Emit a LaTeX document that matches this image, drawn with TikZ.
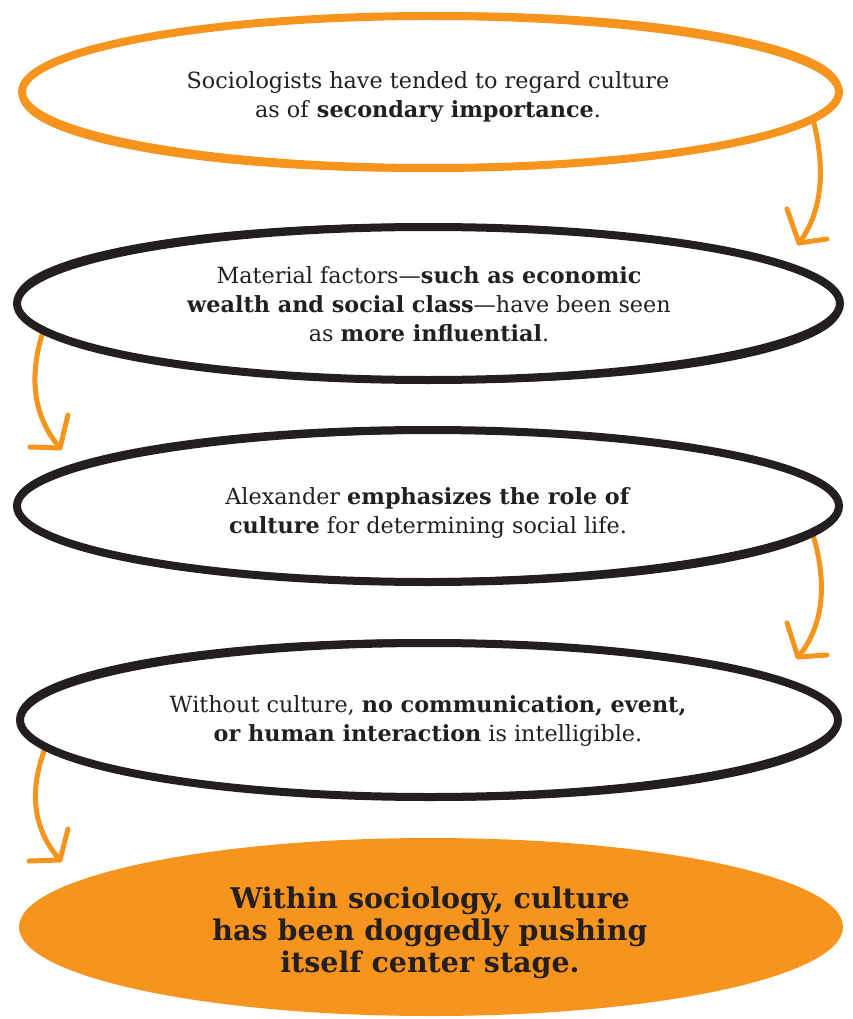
\documentclass[tikz,border=0pt]{standalone}
\usepackage{fontspec}
\setmainfont{DejaVu Serif}
\usetikzlibrary{shapes.geometric}
\definecolor{brand}{HTML}{F7941D}
\definecolor{ink}{HTML}{231F20}
\pgfdeclarelayer{back}
\pgfsetlayers{back,main}
\tikzset{
  oval/.style={ellipse, inner sep=0pt, outer sep=0pt, line width=8pt},
  darkoval/.style={oval, draw=ink},
  lightoval/.style={oval, draw=brand},
  endoval/.style={ellipse, inner sep=0pt, outer sep=0pt, fill=brand},
  txt/.style={align=center, text=ink, inner sep=0pt, font=\fontsize{22.3}{29}\selectfont},
  endtxt/.style={align=center, text=ink, inner sep=0pt, font=\fontsize{28.5}{32}\selectfont\bfseries},
  flow/.style={draw=brand, line width=5pt, line cap=round, line join=round},
}
\begin{document}
\begin{tikzpicture}[x=1pt,y=-1pt]
\useasboundingbox (0,0) rectangle (853,1019);
\node[lightoval, minimum width=817pt, minimum height=152pt] (e1) at (430.5,92) {};
\node[darkoval, minimum width=823pt, minimum height=153pt] (e2) at (428.5,303.5) {};
\node[darkoval, minimum width=822pt, minimum height=152pt] (e3) at (428,506) {};
\node[darkoval, minimum width=818pt, minimum height=154pt] (e4) at (429,720) {};
\node[endoval, minimum width=824pt, minimum height=178pt] (e5) at (431,927) {};
\node[txt] (l1) at (428,97)
  {Sociologists have tended to regard culture\\as of \textbf{secondary importance}.};
\node[txt] (l2) at (429,304.5)
  {Material factors---\textbf{such as economic}\\\textbf{wealth and social class}---have been seen\\as \textbf{more influential}.};
\node[txt] (l3) at (428,513)
  {Alexander \textbf{emphasizes the role of}\\\textbf{culture} for determining social life.};
\node[txt] (l4) at (428,721)
  {Without culture, \textbf{no communication, event,}\\\textbf{or human interaction} is intelligible.};
\node[endtxt] (l5) at (430,933)
  {Within sociology, culture\\has been doggedly pushing\\itself center stage.};
% brush variation
\draw[brand, line width=3.5pt, rotate around={0.5:(e1.center)}] (e1.center) ellipse [x radius=409, y radius=78];
\draw[ink, line width=3.5pt, rotate around={-0.5:(e2.center)}] (e2.center) ellipse [x radius=412, y radius=78];
\draw[ink, line width=3.5pt, rotate around={0.4:(e3.center)}] (e3.center) ellipse [x radius=411, y radius=74];
\draw[ink, line width=3.5pt, rotate around={-0.4:(e4.center)}] (e4.center) ellipse [x radius=410, y radius=79];
% arrow ends
\coordinate (t1) at (799,243);
\coordinate (p1) at (787,209);
\coordinate (q1) at (827,239);
\coordinate (t2) at (60,448);
\coordinate (p2) at (68,415);
\coordinate (q2) at (30,447);
\coordinate (t3) at (798,657);
\coordinate (p3) at (787,623);
\coordinate (q3) at (827,655);
\coordinate (t4) at (60,860);
\coordinate (p4) at (68,829);
\coordinate (q4) at (29,861);
\begin{pgfonlayer}{back}
\draw[flow] (e1.-4.5) .. controls (825,165) and (824,210) .. (t1);
\draw[flow] (p1) -- (t1) -- (q1);
\draw[flow] (e2.-176) .. controls (29,375) and (32,415) .. (t2);
\draw[flow] (p2) -- (t2) -- (q2);
\draw[flow] (e3.-4.3) .. controls (827,580) and (825,625) .. (t3);
\draw[flow] (p3) -- (t3) -- (q3);
\draw[flow] (e4.-176.2) .. controls (29,790) and (32,828) .. (t4);
\draw[flow] (p4) -- (t4) -- (q4);
\end{pgfonlayer}
\end{tikzpicture}
\end{document}
